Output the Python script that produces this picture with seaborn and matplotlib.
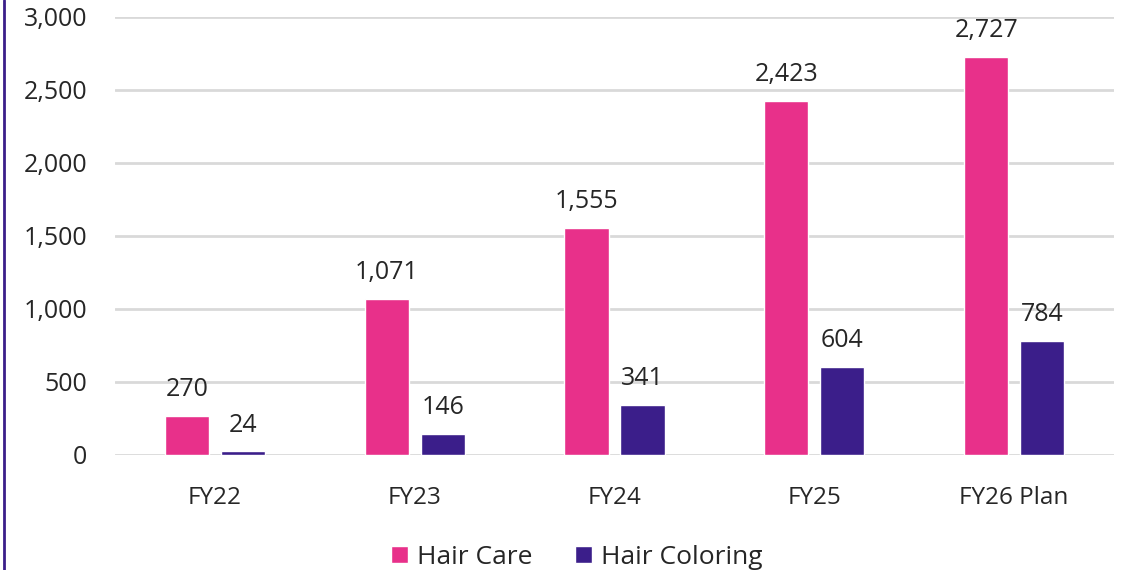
import matplotlib
matplotlib.use("Agg")
import matplotlib.pyplot as plt
import seaborn as sns
import pandas as pd
from matplotlib.lines import Line2D
from matplotlib.patches import Patch

categories = ["FY22", "FY23", "FY24", "FY25", "FY26 Plan"]
hair_care = [270, 1071, 1555, 2423, 2727]
hair_coloring = [24, 146, 341, 604, 784]
series_names = ["Hair Care", "Hair Coloring"]
colors = ["#E8308A", "#3B1E8A"]

df = pd.DataFrame({
    "cat": categories * 2,
    "value": hair_care + hair_coloring,
    "series": [series_names[0]] * 5 + [series_names[1]] * 5,
})

sns.set_theme(style="white")
plt.rcParams["font.family"] = ["Open Sans", "DejaVu Sans"]

fig = plt.figure(figsize=(11.35, 5.7), dpi=100)
ax = fig.add_axes([0.1013, 0.2018, 0.8802, 0.7684])

sns.barplot(data=df, x="cat", y="value", hue="series", palette=colors,
            width=0.56, gap=0.21, ax=ax, legend=False, saturation=1)

ax.set_ylim(0, 3000)
ax.set_xlim(-0.5, 4.5)
yt = [0, 500, 1000, 1500, 2000, 2500, 3000]
ax.set_yticks(yt)
ax.set_yticklabels([f"{v:,}" for v in yt])
ax.yaxis.grid(True, color="#d9d9d9", linewidth=2)
ax.set_axisbelow(True)
for s in ax.spines.values():
    s.set_visible(False)
ax.tick_params(axis="y", length=0, pad=20, labelsize=18, labelcolor="#262626")
ax.tick_params(axis="x", length=0, pad=22, labelsize=17.5, labelcolor="#262626")
ax.set_xlabel("")
ax.set_ylabel("")

for cont in ax.containers:
    ax.bar_label(cont, labels=[f"{int(v):,}" for v in cont.datavalues],
                 padding=10, fontsize=18, color="#262626")

handles = [Patch(facecolor=c, label=n) for c, n in zip(colors, series_names)]
fig.legend(handles=handles, loc="center", bbox_to_anchor=(0.508, 0.022),
           ncol=2, frameon=False, fontsize=19, handlelength=0.65, handleheight=0.65,
           handletextpad=0.35, columnspacing=1.6, labelcolor="#262626")

fig.add_artist(Line2D([0.0035, 0.0035], [0, 1], color="#3B1E8A", linewidth=2,
                      transform=fig.transFigure))

fig.savefig("out.png", dpi=100)
